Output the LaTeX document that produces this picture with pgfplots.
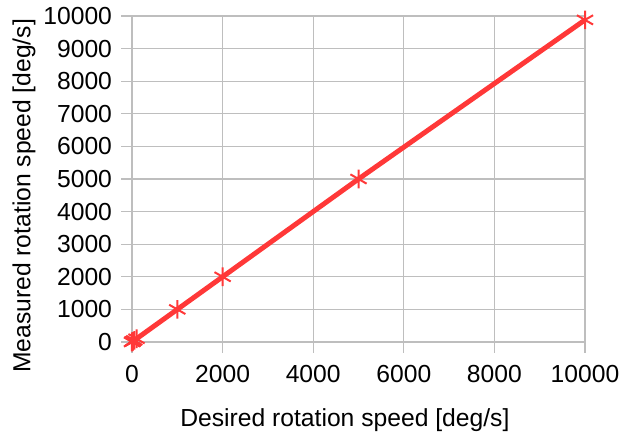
\documentclass[border=0pt]{standalone}
\usepackage{pgfplots}
\pgfplotsset{compat=1.18}
\usepackage{fontspec}
\setmainfont{Liberation Sans}
\definecolor{lineRed}{RGB}{255,56,56}
\definecolor{gridGray}{RGB}{190,190,190}
\begin{document}
\begin{tikzpicture}[x=0.75pt,y=0.75pt]
\useasboundingbox (-132,-103) rectangle (488,342);
\begin{axis}[
  at={(0,0)}, anchor=origin,
  scale only axis,
  width=339.75pt, height=244.5pt,
  xmin=0, xmax=10000, ymin=0, ymax=10000,
  xtick={0,2000,...,10000},
  ytick={0,1000,...,10000},
  grid=major,
  grid style={gridGray, line width=0.8pt},
  axis line style={gridGray, line width=1.2pt},
  axis x line*=bottom, axis y line*=left,
  tick style={gridGray, line width=0.9pt},
  tick align=outside,
  major tick length=8pt,
  scaled ticks=false,
  /pgf/number format/assume math mode=true,
  /pgf/number format/1000 sep={},
  ticklabel style={font=\fontsize{18.5}{21}\selectfont, black},
  xticklabel style={yshift=-6pt},
  yticklabel style={xshift=-3.5pt},
  xlabel={Desired rotation speed [deg/s]},
  ylabel={Measured rotation speed [deg/s]},
  label style={font=\fontsize{18.5}{21}\selectfont, black},
  xlabel style={at={(axis description cs:0.470,-0.239)}, anchor=center},
  ylabel style={at={(axis description cs:-0.2384,0.448)}, anchor=center},
  clip=false,
]
\addplot[lineRed, line width=3.7pt, mark=asterisk,
  mark options={line width=1.5pt, mark size=7pt, solid}]
  coordinates {
    (0,0) (10,10) (20,20) (50,50) (100,100) (1000,1000) (2000,2000) (5000,5000) (10000,9880)
  };
\end{axis}
\end{tikzpicture}
\end{document}
